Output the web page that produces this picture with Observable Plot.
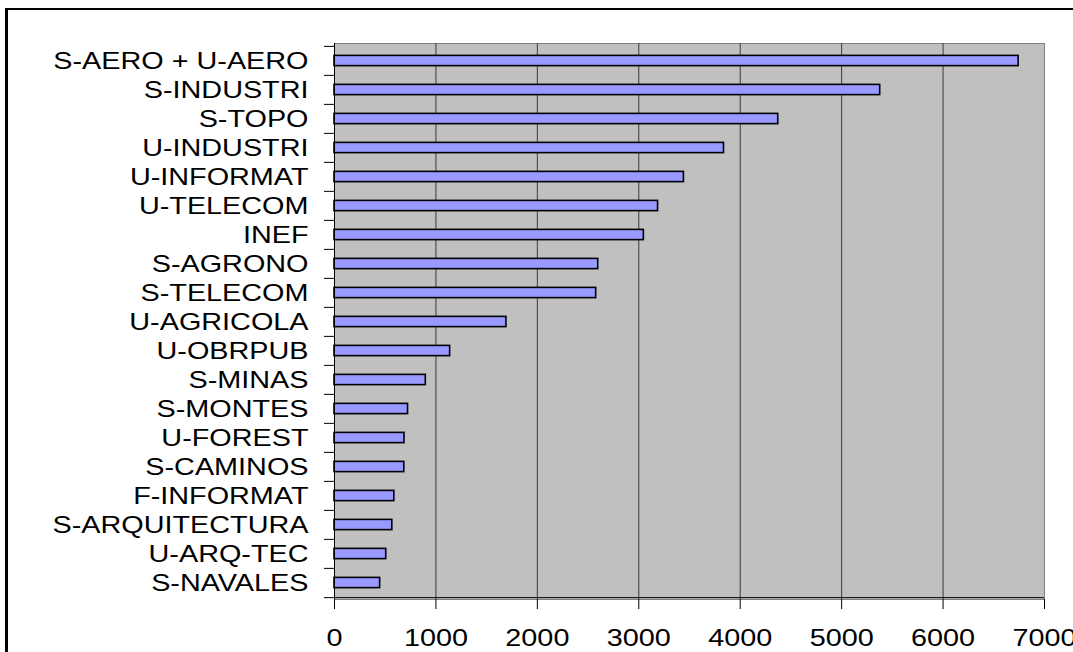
<!DOCTYPE html>
<html>
<head>
<meta charset="utf-8">
<script src="https://cdn.jsdelivr.net/npm/d3@7"></script>
<script src="https://cdn.jsdelivr.net/npm/@observablehq/plot@0.6"></script>
<style>
  html, body { margin: 0; padding: 0; background: #fff; overflow: hidden; }
  #wrap { position: relative; width: 1073px; height: 652px; }
  #border { position: absolute; left: 5px; top: 8px; width: 1200px; height: 800px;
            border-left: 3px solid #000; border-top: 2px solid #000; pointer-events: none; }
</style>
</head>
<body>
<div id="wrap"><div id="chart"></div><div id="border"></div></div>
<script>
const categories = [
  "S-AERO + U-AERO", "S-INDUSTRI", "S-TOPO", "U-INDUSTRI", "U-INFORMAT",
  "U-TELECOM", "INEF", "S-AGRONO", "S-TELECOM", "U-AGRICOLA", "U-OBRPUB",
  "S-MINAS", "S-MONTES", "U-FOREST", "S-CAMINOS", "F-INFORMAT",
  "S-ARQUITECTURA", "U-ARQ-TEC", "S-NAVALES"
];
const values = [
  6745, 5380, 4375, 3840, 3445, 3190, 3050, 2600, 2580, 1695, 1140,
  900, 725, 690, 688, 590, 570, 510, 450
];
const xTicks = [0, 1000, 2000, 3000, 4000, 5000, 6000, 7000];
const gridTicks = [1000, 2000, 3000, 4000, 5000, 6000];

const data = categories.map((c, i) => ({cat: c, val: values[i]}));

const W = 1073, H = 652;
const mL = 334, mR = 29, mT = 43, mB = 53;
const step = (H - mT - mB) / categories.length;
const barH = 10.5;
const inset = (step - barH) / 2;
const xMax = 7000;
const tickUnits = 10 * xMax / (W - mL - mR);

const chart = Plot.plot({
  width: W,
  height: H,
  marginLeft: mL,
  marginRight: mR,
  marginTop: mT,
  marginBottom: mB,
  style: {fontFamily: "'Liberation Sans', Arial, sans-serif", fontSize: "24px", background: "#fff", color: "#000", overflow: "visible"},
  x: {domain: [0, xMax], axis: null},
  y: {domain: categories, padding: 0, axis: null},
  marks: [
    Plot.frame({fill: "#c0c0c0", stroke: "#808080"}),
    Plot.ruleX(gridTicks, {stroke: "#3a3a3a", strokeWidth: 1}),
    Plot.barX(data, {x: "val", y: "cat", fill: "#9999ff", stroke: "#000", strokeWidth: 1.6, insetTop: inset, insetBottom: inset}),
    Plot.ruleX([0], {stroke: "#000", strokeWidth: 1}),
    Plot.ruleY(categories, {dy: -step / 2, x1: -tickUnits, x2: 0, stroke: "#000", strokeWidth: 1}),
    Plot.ruleY([categories[categories.length - 1]], {dy: step / 2, x1: -tickUnits, x2: xMax, stroke: "#000", strokeWidth: 1}),
    Plot.axisY({tickSize: 0, tickPadding: 26, fontSize: 24, label: null}),
    Plot.axisX({ticks: xTicks, tickFormat: d => String(d), tickSize: 10, tickPadding: 19, fontSize: 24, label: null, anchor: "bottom"})
  ]
});

document.getElementById("chart").appendChild(chart);

// horizontally stretch tick labels to match the reference's wide lettering
const sx = 1.2;
chart.querySelectorAll('g[aria-label$="tick label"] text').forEach(t => {
  const tr = t.getAttribute("transform");
  if (tr) {
    t.setAttribute("transform", tr + ` scale(${sx},1)`);
  } else {
    const x = +(t.getAttribute("x") || 0), y = +(t.getAttribute("y") || 0);
    t.removeAttribute("x"); t.removeAttribute("y");
    t.setAttribute("transform", `translate(${x},${y}) scale(${sx},1)`);
  }
});
</script>
</body>
</html>
